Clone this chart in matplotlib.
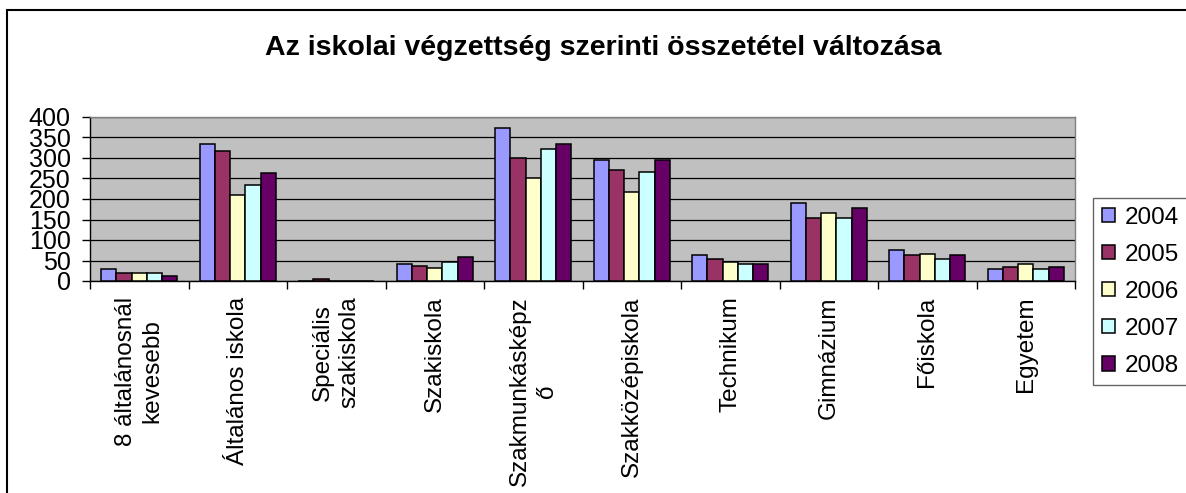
import numpy as np
import matplotlib.pyplot as plt
from matplotlib.patches import Rectangle

plt.rcParams['font.family'] = ['Liberation Sans', 'DejaVu Sans']

categories = ['8 általánosnál\nkevesebb', 'Általános iskola', 'Speciális\nszakiskola',
              'Szakiskola', 'Szakmunkásképz\nő', 'Szakközépiskola', 'Technikum',
              'Gimnázium', 'Főiskola', 'Egyetem']
years = ['2004', '2005', '2006', '2007', '2008']
v2004 = [29, 334, 0, 41, 374, 296, 63, 190, 75, 29]
v2005 = [20, 317, 4, 37, 301, 271, 54, 153, 63, 33]
v2006 = [20, 210, 0, 32, 250, 218, 46, 165, 67, 41]
v2007 = [20, 235, 0, 46, 321, 267, 41, 153, 54, 29]
v2008 = [13, 264, 0, 59, 334, 296, 41, 178, 63, 33]
series = [v2004, v2005, v2006, v2007, v2008]
colors = ['#9999FF', '#993366', '#FFFFCC', '#CCFFFF', '#660066']

W, H = 1186, 493
fig = plt.figure(figsize=(W / 100, H / 100), dpi=100)
ax = fig.add_axes([90 / W, 1 - 281 / H, (1075 - 90) / W, (281 - 117) / H])
ax.set_facecolor('#C0C0C0')

x = np.arange(len(categories))
w = 0.154
for i, (vals, c, yr) in enumerate(zip(series, colors, years)):
    ax.bar(x + (i - 2) * w, vals, w, color=c, edgecolor='black', linewidth=1.1,
           label=yr, zorder=3)

ax.set_xlim(-0.5, len(categories) - 0.5)
ax.set_ylim(0, 400)
ax.set_yticks(range(0, 401, 50))
ax.yaxis.grid(True, color='black', linewidth=0.9, zorder=1)
ax.set_axisbelow(True)

for s in ['top', 'right']:
    ax.spines[s].set_color('#808080')
    ax.spines[s].set_linewidth(1.0)
ax.spines['left'].set_linewidth(1.0)
ax.spines['bottom'].set_linewidth(1.0)

ax.tick_params(axis='y', length=6, width=1, pad=8, labelsize=18)
ax.set_xticks(np.arange(len(categories) + 1) - 0.5)
ax.set_xticklabels([])
ax.tick_params(axis='x', length=6, width=1)
for xi, lab in zip(x, categories):
    ax.text(xi, -38, lab, rotation=90, ha='center', va='top', multialignment='center',
            fontsize=17.5, linespacing=1.3)

fig.text(603 / W, 1 - 55 / H, 'Az iskolai végzettség szerinti összetétel változása',
         fontsize=20.5, fontweight='bold', ha='center', va='baseline')

leg = fig.legend(loc='upper left', bbox_to_anchor=(1093 / W, 1 - 198 / H), fontsize=17.5,
                 frameon=True, fancybox=False, edgecolor='#404040', handlelength=0.55,
                 handleheight=0.55, handletextpad=0.4, labelspacing=0.62,
                 borderpad=0.35, borderaxespad=0)
leg.get_frame().set_linewidth(1.0)

# outer chart border
fig.patches.append(Rectangle((7 / W, -0.1), 1.2, 1 - 10 / H + 0.1,
                             transform=fig.transFigure, fill=False,
                             edgecolor='black', linewidth=1.5))

fig.savefig('out.png', dpi=100)
